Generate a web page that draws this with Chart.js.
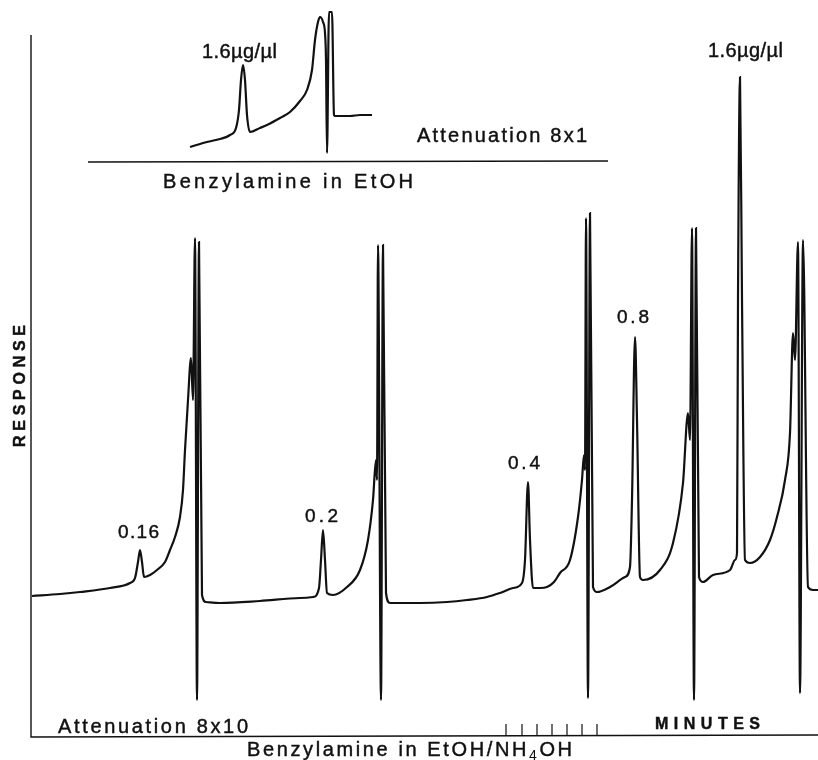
<!DOCTYPE html>
<html>
<head>
<meta charset="utf-8">
<script src="https://cdn.jsdelivr.net/npm/chart.js@4/dist/chart.umd.min.js"></script>
<style>
html,body{margin:0;padding:0;background:#fff;}
#wrap{width:818px;height:760px;position:relative;}
</style>
</head>
<body>
<div id="wrap"><canvas id="c"></canvas></div>
<script>
// ---- data (time in chart units, response in chart units) ----
const mainTime = [1,29,49,79,99,104,107,109,111,113,119,126,134,139,144,149,152,154,157,160,162,164,166,168,171,175,189,229,269,282,288,290,292,294,296,302,316,329,337,342,345,346,347,350,352,355,359,389,416,436,456,469,482,491,494,497,499,502,509,516,523,529,539,547,551,553,554,555,557,559,562,566,579,594,599,601,604,606,609,612,629,642,652,657,659,661,663,665,668,672,682,699,704,706,707,709,711,714,719,729,739,746,754,759,762,764,767,769,772,777,782,787];
const mainResponse = [142,144,146,150,155,160,176,188,176,161,163,168,176,188,201,221,248,288,338,380,338,500,38,496,143,136,135,137,140,141,150,178,208,178,145,143,151,168,198,238,278,258,493,38,493,145,135,135,136,138,141,145,150,155,178,256,198,150,150,151,156,165,178,221,258,283,268,520,40,525,151,146,151,161,171,238,401,318,161,158,168,195,255,325,298,510,38,510,161,156,163,168,178,185,438,661,438,178,175,181,198,221,258,305,405,378,496,45,498,151,148,148];

const insetTime = [159,176,189,199,205,208,210,212,214,216,219,229,236,249,259,269,276,281,284,287,289,292,294,295,296,298,301,303,304,319,329,341];
const insetResponse = [591,596,599,603,610,628,658,673,658,623,606,610,613,620,626,637,648,668,698,716,721,716,705,678,585,726,726,623,622,622,623,623];

const concentrations = ['0.16','0.2','0.4','0.8','1.6µg/µl'];
const insetConcentration = '1.6µg/µl';
const minuteTicks = [475,491,506,521,536,551,566];

// ---- build datasets ----
const mainPts = mainTime.map((t,i)=>({x:t,y:mainResponse[i]}));
const insetPts = insetTime.map((t,i)=>({x:t,y:insetResponse[i]}));
const tickPts = [];
minuteTicks.forEach(t=>{ tickPts.push({x:t,y:2},{x:t,y:14},{x:t,y:null}); });

const INK = '#111';
const FONT = "'Liberation Sans', Arial, Helvetica, sans-serif";

function drawFit(ctx, text, x, y, width, font){
  ctx.font = font;
  ctx.letterSpacing = '0px';
  const w = ctx.measureText(text).width;
  const n = [...text].length;
  const ls = n > 1 ? (width - w)/(n - 1) : 0;
  ctx.letterSpacing = ls + 'px';
  ctx.textAlign = 'left';
  ctx.textBaseline = 'alphabetic';
  ctx.fillText(text, x, y);
  ctx.strokeText(text, x, y);
  ctx.letterSpacing = '0px';
}

const labelPlugin = {
  id: 'labels',
  afterDatasetsDraw(chart){
    const ctx = chart.ctx, xs = chart.scales.x, ys = chart.scales.y;
    const X = v => xs.getPixelForValue(v), Y = v => ys.getPixelForValue(v);
    ctx.save();
    ctx.fillStyle = INK;
    ctx.strokeStyle = INK;
    ctx.lineWidth = 0.45;
    const f20 = "20px " + FONT;
    // peak labels
    const peakAnchors = [[87,200,41,"19px "],[274,216,33,"19px "],[477,269,32,"19px "],[586,415,32,"19px "],[677,681,75,"20px "]];
    concentrations.forEach((c,i)=>{
      const a = peakAnchors[i];
      drawFit(ctx, c, X(a[0]), Y(a[1]), a[2], a[3] + FONT);
    });
    drawFit(ctx, insetConcentration, X(171), Y(680), 75, "20px " + FONT);
    // inset texts
    drawFit(ctx, 'Attenuation 8x1', X(386), Y(596), 170, f20);
    drawFit(ctx, 'Benzylamine in EtOH', X(132), Y(550), 250, f20);
    // main texts
    drawFit(ctx, 'Attenuation 8x10', X(27), Y(5), 190, f20);
    drawFit(ctx, 'MINUTES', X(624), Y(9), 105, "bold 16px " + FONT);
    // x title with subscript
    {
      const p1 = 'Benzylamine in EtOH/NH', p2 = '4', p3 = 'OH';
      const fs = "14px " + FONT;
      ctx.letterSpacing = '0px';
      ctx.font = f20; const w1 = ctx.measureText(p1).width, w3 = ctx.measureText(p3).width;
      ctx.font = fs; const w2 = ctx.measureText(p2).width;
      const n1 = p1.length, n2 = p2.length, n3 = p3.length;
      const ls = (325 - (w1+w2+w3))/(n1+n2+n3-1);
      let x = X(216); const y = Y(-18);
      ctx.textAlign='left'; ctx.textBaseline='alphabetic';
      ctx.letterSpacing = ls + 'px';
      ctx.font = f20; ctx.fillText(p1, x, y); ctx.strokeText(p1, x, y); x += w1 + n1*ls;
      ctx.font = fs; ctx.fillText(p2, x, y + 4); x += w2 + n2*ls;
      ctx.font = f20; ctx.fillText(p3, x, y); ctx.strokeText(p3, x, y);
      ctx.letterSpacing = '0px';
    }
    // y title
    ctx.translate(X(-12), Y(352));
    ctx.rotate(-Math.PI/2);
    drawFit(ctx, 'RESPONSE', -61, 6, 122, "bold 16px " + FONT);
    ctx.restore();
  }
};

new Chart(document.getElementById('c'), {
  type: 'scatter',
  data: {
    datasets: [
      {label:'Benzylamine in EtOH/NH4OH', data: mainPts, showLine:true, borderColor:INK, borderWidth:2.2, pointRadius:0, cubicInterpolationMode:'monotone', clip:false},
      {label:'Benzylamine in EtOH', data: insetPts, showLine:true, borderColor:INK, borderWidth:2.2, pointRadius:0, cubicInterpolationMode:'monotone', clip:false},
      {label:'inset axis', data: [{x:57,y:576},{x:577,y:577}], showLine:true, borderColor:INK, borderWidth:1.6, pointRadius:0, clip:false},
      {label:'axes', data: [{x:0,y:703},{x:0,y:1},{x:787,y:3}], showLine:true, borderColor:INK, borderWidth:1.4, pointRadius:0, clip:false},
      {label:'minutes', data: tickPts, showLine:true, spanGaps:false, borderColor:INK, borderWidth:1.2, pointRadius:0, clip:false}
    ]
  },
  options: {
    responsive: true,
    maintainAspectRatio: false,
    animation: false,
    layout: {padding: {left:31, right:0, top:0, bottom:22}},
    scales: {
      x: {type:'linear', min:0, max:787, display:false},
      y: {type:'linear', min:0, max:738, display:false}
    },
    plugins: {legend:{display:false}, tooltip:{enabled:false}}
  },
  plugins: [labelPlugin]
});
</script>
</body>
</html>
